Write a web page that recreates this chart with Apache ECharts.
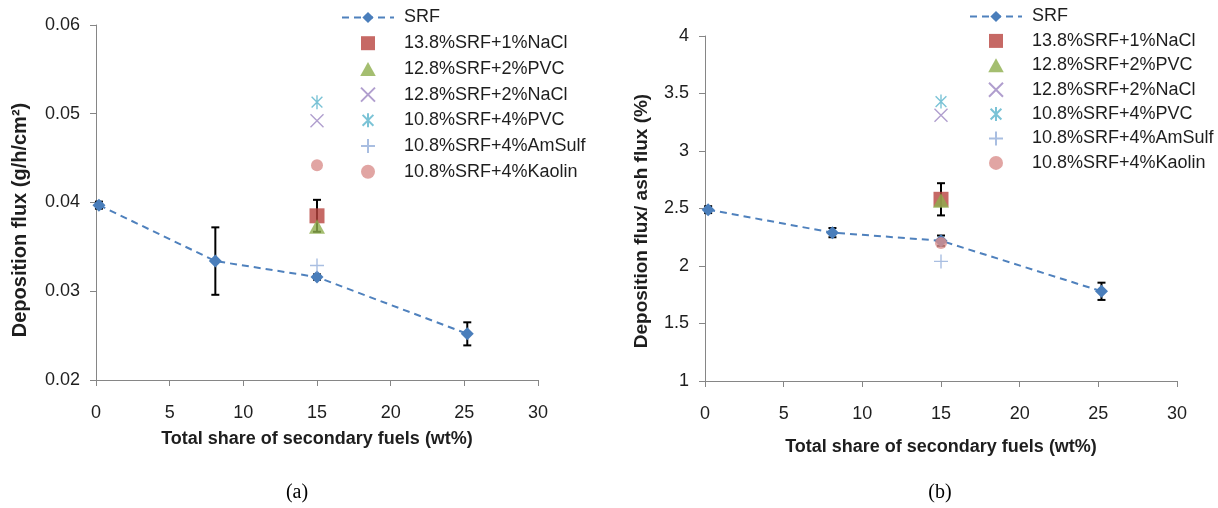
<!DOCTYPE html>
<html>
<head>
<meta charset="utf-8">
<script src="https://cdn.jsdelivr.net/npm/echarts@6/dist/echarts.min.js"></script>
<style>
  html, body { margin: 0; padding: 0; background: #fff; }
  #chart { width: 1218px; height: 508px; }
</style>
</head>
<body>
<div id="chart"></div>
<script>
// ---- data -------------------------------------------------------------
// SRF-only co-firing: share of secondary fuel (wt%)
const srfShare = [0.2, 8.1, 15.0, 25.2];
// (a) deposition flux, g/h/cm2, with +/- error
const srfFlux = [0.0397, 0.0334, 0.0316, 0.0252];
const srfFluxErr = [0.0004, 0.0038, 0.0003, 0.0013];
// (b) deposition flux / ash flux, %, with +/- error
const srfRatio = [2.49, 2.29, 2.22, 1.78];
const srfRatioErr = [0.03, 0.04, 0.045, 0.075];

// additive blends, all at 15 wt% total secondary fuel
const blendNames = [
  '13.8%SRF+1%NaCl',
  '12.8%SRF+2%PVC',
  '12.8%SRF+2%NaCl',
  '10.8%SRF+4%PVC',
  '10.8%SRF+4%AmSulf',
  '10.8%SRF+4%Kaolin'
];
const blendShare = [15.0, 15.0, 15.0, 15.0, 15.0, 15.0];
const blendFlux = [0.0385, 0.0373, 0.0492, 0.0513, 0.0329, 0.0442];
const blendRatio = [2.58, 2.57, 3.31, 3.43, 2.04, 2.20];
// error of the 1% NaCl blend
const naclFluxErr = 0.0018;
const naclRatioErr = 0.14;

// axis tick ranges
const shareAxis = { min: 0, max: 30, interval: 5 };
const fluxAxis = { min: 0.02, max: 0.06, interval: 0.01 };
const ratioAxis = { min: 1, max: 4, interval: 0.5 };

// ---- styling ----------------------------------------------------------
const FONT = '"Liberation Sans", Arial, sans-serif';
const AXIS_GREY = '#868686';
const TEXT = '#1e1e1e';

const blendStyles = [
  { symbol: 'path://M0,0 L10,0 L10,10 L0,10 Z', size: 15, color: '#B8433F' },
  { symbol: 'path://M5,0 L10,9 L0,9 Z', size: 16, color: '#8DAE4C' },
  { symbol: 'path://M0,0 L10,10 M10,0 L0,10', size: 13, color: '#9C86C2', stroke: true },
  { symbol: 'path://M0,0 L10,10 M10,0 L0,10 M5,-1.5 L5,11.5', size: 14, color: '#5AB4CC', stroke: true },
  { symbol: 'path://M5,0 L5,10 M0,5 L10,5', size: 14, color: '#94AEDA', stroke: true },
  { symbol: 'circle', size: 12, color: '#D98E8C' }
];

function errorSeries(xi, points, errs) {
  return {
    type: 'custom',
    xAxisIndex: xi, yAxisIndex: xi,
    silent: true,
    z: 1,
    data: points.map((p, i) => [p[0], p[1], errs[i]]),
    encode: { x: 0, y: 1 },
    renderItem(params, api) {
      const x = api.value(0), y = api.value(1), e = api.value(2);
      const hi = api.coord([x, y + e]);
      const lo = api.coord([x, y - e]);
      const w = 4;
      const style = { stroke: '#000', lineWidth: 2 };
      return {
        type: 'group',
        children: [
          { type: 'line', shape: { x1: hi[0], y1: hi[1], x2: lo[0], y2: lo[1] }, style },
          { type: 'line', shape: { x1: hi[0] - w, y1: hi[1], x2: hi[0] + w, y2: hi[1] }, style },
          { type: 'line', shape: { x1: lo[0] - w, y1: lo[1], x2: lo[0] + w, y2: lo[1] }, style }
        ]
      };
    }
  };
}

function panelSeries(xi, values, errs, blendValues, naclErr) {
  const srfPts = srfShare.map((x, i) => [x, values[i]]);
  const out = [];
  out.push(errorSeries(xi, srfPts, errs));
  out.push({
    name: 'SRF',
    type: 'line',
    xAxisIndex: xi, yAxisIndex: xi,
    data: srfPts,
    symbol: 'diamond',
    symbolSize: 13,
    z: 2,
    lineStyle: { color: '#4F81BD', width: 2, type: [7, 5] },
    itemStyle: { color: '#4A7EBB' },
    emphasis: { disabled: true }
  });
  // error bar of the 1% NaCl blend sits under its marker
  out.push(errorSeries(xi, [[blendShare[0], blendValues[0]]], [naclErr]));
  blendNames.forEach((name, i) => {
    const st = blendStyles[i];
    out.push({
      name,
      type: 'scatter',
      xAxisIndex: xi, yAxisIndex: xi,
      data: [[blendShare[i], blendValues[i]]],
      symbol: st.symbol,
      symbolSize: st.size,
      symbolKeepAspect: true,
      z: 3,
      itemStyle: st.stroke
        ? { color: st.color, borderColor: st.color, borderWidth: 1.4 }
        : { color: st.color },
      emphasis: { disabled: true }
    });
  });
  return out;
}

function xAxisCfg(gi, nameGap) {
  return {
    type: 'value', gridIndex: gi,
    min: shareAxis.min, max: shareAxis.max, interval: shareAxis.interval,
    name: 'Total share of secondary fuels (wt%)',
    nameLocation: 'middle',
    nameGap,
    nameTextStyle: { fontFamily: FONT, fontSize: 18, fontWeight: 'bold', color: TEXT },
    axisLine: { show: true, onZero: false, lineStyle: { color: AXIS_GREY, width: 1 } },
    axisTick: { show: true, length: 6, lineStyle: { color: AXIS_GREY } },
    splitLine: { show: false },
    axisLabel: { fontFamily: FONT, fontSize: 18, color: TEXT, margin: 24 }
  };
}

function yAxisCfg(gi, rng, fmt) {
  return {
    type: 'value', gridIndex: gi,
    min: rng.min, max: rng.max, interval: rng.interval,
    axisLine: { show: true, lineStyle: { color: AXIS_GREY, width: 1 } },
    axisTick: { show: true, length: 6, lineStyle: { color: AXIS_GREY } },
    splitLine: { show: false },
    axisLabel: { fontFamily: FONT, fontSize: 18, color: TEXT, margin: 16, formatter: fmt }
  };
}

function legendCfg(left, top, gap) {
  return {
    orient: 'vertical',
    left, top,
    padding: 0,
    itemWidth: 52,
    itemHeight: 14,
    itemGap: gap,
    selectedMode: false,
    data: ['SRF'].concat(blendNames),
    textStyle: { fontFamily: FONT, fontSize: 18, color: TEXT, lineHeight: 19, padding: [0, 0, 0, 5] }
  };
}

const chart = echarts.init(document.getElementById('chart'), null, { renderer: 'canvas' });

chart.setOption({
  backgroundColor: '#fff',
  animation: false,
  grid: [
    { left: 96, top: 25, width: 442, height: 355 },
    { left: 705, top: 36, width: 472, height: 345 }
  ],
  xAxis: [xAxisCfg(0, 50), xAxisCfg(1, 57)],
  yAxis: [
    yAxisCfg(0, fluxAxis, v => v.toFixed(2)),
    yAxisCfg(1, ratioAxis, v => String(v))
  ],
  legend: [legendCfg(341, 8, 6.7), legendCfg(969, 7, 5.4)],
  graphic: [
    {
      type: 'text', x: 20, y: 220, rotation: Math.PI / 2,
      style: { text: 'Deposition flux (g/h/cm²)', font: 'bold 20px ' + FONT, fill: TEXT, align: 'center', verticalAlign: 'middle' }
    },
    {
      type: 'text', x: 642, y: 221, rotation: Math.PI / 2,
      style: { text: 'Deposition flux/ ash flux (%)', font: 'bold 19px ' + FONT, fill: TEXT, align: 'center', verticalAlign: 'middle' }
    },
    {
      type: 'text', x: 297, y: 493,
      style: { text: '(a)', font: '20px "Liberation Serif", serif', fill: '#000', align: 'center', verticalAlign: 'middle' }
    },
    {
      type: 'text', x: 940, y: 493,
      style: { text: '(b)', font: '20px "Liberation Serif", serif', fill: '#000', align: 'center', verticalAlign: 'middle' }
    }
  ],
  series: panelSeries(0, srfFlux, srfFluxErr, blendFlux, naclFluxErr)
    .concat(panelSeries(1, srfRatio, srfRatioErr, blendRatio, naclRatioErr))
});
</script>
</body>
</html>
